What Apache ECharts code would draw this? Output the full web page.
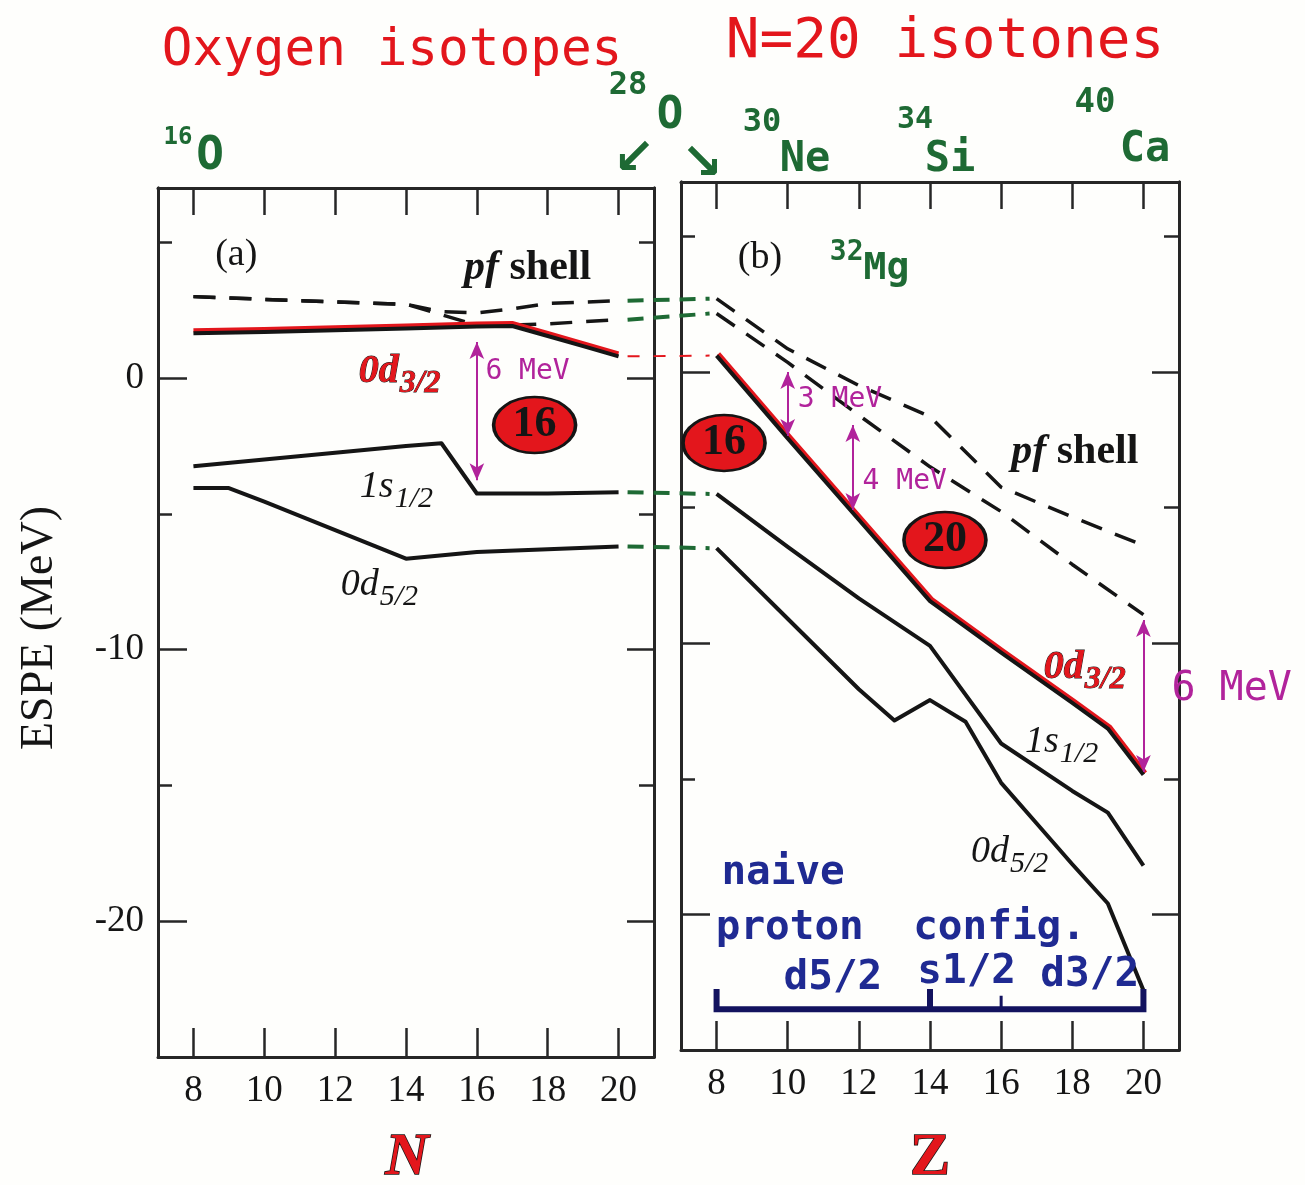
<!DOCTYPE html>
<html>
<head>
<meta charset="utf-8">
<script src="https://cdn.jsdelivr.net/npm/echarts@6/dist/echarts.min.js"></script>
<style>
  html, body { margin: 0; padding: 0; background: #fefefc; }
  #chart { width: 1305px; height: 1185px; }
</style>
</head>
<body>
<div id="chart"></div>
<script>
// ---------------- axis ticks ----------------
const xTicks = [8, 10, 12, 14, 16, 18, 20];
const yMajorTicks = [-20, -10, 0];
const yMinorTicks = [-15, -5, 5];

// ---------------- (a) oxygen isotopes: ESPE vs N ----------------
const oxyN_pfA = [8, 10, 12, 14, 15, 16, 17, 18, 20];
const oxyE_pfA = [3.0, 2.9, 2.8, 2.72, 2.45, 2.4, 2.55, 2.75, 2.85];
const oxyN_pfB = [8, 10, 12, 14, 16, 17, 18, 20];
const oxyE_pfB = [3.0, 2.9, 2.8, 2.72, 1.95, 1.95, 2.0, 2.15];
const oxyN_d32 = [8, 10, 12, 14, 16, 17, 18, 19, 20];
const oxyE_d32 = [1.65, 1.7, 1.76, 1.83, 1.9, 1.92, 1.55, 1.18, 0.8];
const oxyN_s12 = [8, 10, 12, 14, 15, 16, 18, 20];
const oxyE_s12 = [-3.25, -3.0, -2.75, -2.5, -2.4, -4.25, -4.25, -4.2];
const oxyN_d52 = [8, 9, 10, 12, 14, 16, 18, 20];
const oxyE_d52 = [-4.05, -4.05, -4.55, -5.6, -6.65, -6.4, -6.3, -6.2];

// ---------------- (b) N = 20 isotones: ESPE vs Z ----------------
const isoZ_pfU = [8, 10, 12, 14, 16, 18, 20];
const isoE_pfU = [2.7, 0.85, -0.5, -1.65, -4.25, -5.35, -6.4];
const isoZ_pfL = [8, 10, 12, 14, 16, 18, 20];
const isoE_pfL = [2.15, 0.35, -1.6, -3.5, -5.15, -7.1, -8.95];
const isoZ_d32 = [8, 10, 12, 14, 16, 18, 19, 20];
const isoE_d32 = [0.6, -2.45, -5.45, -8.45, -10.35, -12.2, -13.15, -14.85];
const isoZ_s12 = [8, 10, 12, 14, 16, 18, 19, 20];
const isoE_s12 = [-4.5, -6.45, -8.35, -10.1, -13.7, -15.45, -16.25, -18.2];
const isoZ_d52 = [8, 10, 12, 13, 14, 15, 16, 17, 18, 19, 20];
const isoE_d52 = [-6.5, -9.1, -11.7, -12.85, -12.1, -12.9, -15.15, -16.65, -18.15, -19.6, -22.8];

// naive proton filling: d5/2 (Z 8-14), s1/2 (14-16), d3/2 (16-20)
const protonBarZ = [8, 8, 20, 20];
const protonBarE = [-22.75, -23.5, -23.5, -22.75];
const protonStepZ = [14, 16];
const protonStepTop = [-22.75, -23.0];

// gap arrows [x, upper E, lower E]
const gapArrowsO = [[16, 1.33, -3.76]];
const gapArrowsIso = [[10, 0.0, -2.36], [11.83, -1.96, -5.09], [20, -9.15, -14.75]];

// shell-gap markers [x, E, number]
const gapMarksO = [[17.63, -1.73, '16']];
const gapMarksIso = [[8.21, -2.62, '16'], [14.42, -6.2, '20']];

// ---------------- styling ----------------
const C = {
  ink: '#151515', axis: '#262626', red: '#e3161c', green: '#1e6a34',
  mag: '#b1239b', navy: '#1f2a92', bar: '#13135f'
};
const SERIF = '"Liberation Serif", "DejaVu Serif", serif';
const HAND = '"DejaVu Sans Mono", monospace';

const pairs = (xs, ys) => xs.map((x, i) => [x, ys[i]]);

function xAxes(grid) {
  const base = {
    gridIndex: grid, type: 'value', min: 7, max: 21,
    splitLine: { show: false },
    axisLine: { show: true, onZero: false, lineStyle: { color: C.axis, width: 3 } },
    axisTick: { show: true, inside: true, length: 29, customValues: xTicks,
                lineStyle: { color: C.axis, width: 2.5 } }
  };
  return [
    Object.assign({}, base, { position: 'bottom',
      axisLabel: { show: true, customValues: xTicks, margin: 16,
                   fontFamily: SERIF, fontSize: 37, color: C.ink } }),
    Object.assign({}, base, { position: 'top', axisLabel: { show: false },
      axisTick: Object.assign({}, base.axisTick, { length: 27 }) })
  ];
}

function yAxes(grid, withLabels) {
  const mk = (pos, ticks, len, labels) => ({
    gridIndex: grid, type: 'value', min: -25, max: 7, position: pos,
    splitLine: { show: false },
    axisLine: { show: true, onZero: false, lineStyle: { color: C.axis, width: 3 } },
    axisTick: { show: true, inside: true, length: len, customValues: ticks,
                lineStyle: { color: C.axis, width: 2.5 } },
    axisLabel: labels
      ? { show: true, customValues: ticks, margin: 14, fontFamily: SERIF, fontSize: 37, color: C.ink }
      : { show: false }
  });
  return [
    mk('left', yMajorTicks, 29, withLabels),
    mk('left', yMinorTicks, 14, false),
    mk('right', yMajorTicks, 27, false),
    mk('right', yMinorTicks, 15, false)
  ];
}

function level(name, g, xs, ys, style) {
  return {
    type: 'line', name, xAxisIndex: g ? 2 : 0, yAxisIndex: g ? 4 : 0,
    data: pairs(xs, ys), symbol: 'none', silent: true, z: 3,
    lineStyle: Object.assign({ color: C.ink, width: 4, join: 'round' }, style || {})
  };
}
const dashed = { type: [22, 14], width: 3.5, cap: 'butt' };
const redEdgeO = { shadowColor: C.red, shadowBlur: 0, shadowOffsetX: 0, shadowOffsetY: -3 };
const redEdgeIso = { shadowColor: C.red, shadowBlur: 0, shadowOffsetX: 2, shadowOffsetY: -2 };

function arrowMarks(list) {
  return {
    silent: true, symbol: ['arrow', 'arrow'], symbolSize: [11, 17],
    lineStyle: { color: C.mag, width: 2, type: 'solid' }, label: { show: false },
    data: list.map(a => [{ coord: [a[0], a[1]] }, { coord: [a[0], a[2]] }])
  };
}

function gapCircles(g, list) {
  return {
    type: 'scatter', xAxisIndex: g ? 2 : 0, yAxisIndex: g ? 4 : 0, z: 6, silent: true,
    symbol: 'circle', symbolSize: [82, 56],
    itemStyle: { color: C.red, borderColor: C.ink, borderWidth: 3, opacity: 1 },
    label: { show: true, position: 'inside', fontFamily: SERIF, fontWeight: 'bold',
             fontSize: 44, color: C.ink, formatter: p => p.data[2] },
    data: list
  };
}

// rich text pieces for level names and annotations
const rich = {
  plain: { fontFamily: SERIF, fontSize: 38, color: C.ink },
  pfi: { fontFamily: SERIF, fontSize: 42, fontStyle: 'italic', fontWeight: 'bold', color: C.ink },
  pfb: { fontFamily: SERIF, fontSize: 42, fontWeight: 'bold', color: C.ink },
  lv: { fontFamily: SERIF, fontSize: 38, fontStyle: 'italic', color: C.ink },
  lvs: { fontFamily: SERIF, fontSize: 30, fontStyle: 'italic', color: C.ink, padding: [24, 0, 0, 1] },
  rv: { fontFamily: SERIF, fontSize: 40, fontStyle: 'italic', fontWeight: 'bold', color: C.red,
        textBorderColor: C.ink, textBorderWidth: 1 },
  rvs: { fontFamily: SERIF, fontSize: 32, fontStyle: 'italic', fontWeight: 'bold', color: C.red,
         textBorderColor: C.ink, textBorderWidth: 0.8, padding: [24, 0, 0, 1] },
  mev: { fontFamily: HAND, fontSize: 28, color: C.mag },
  mevL: { fontFamily: HAND, fontSize: 40, color: C.mag },
  gm: { fontFamily: HAND, fontSize: 28, fontWeight: 'bold', color: C.green },
  gMg: { fontFamily: HAND, fontSize: 38, fontWeight: 'bold', color: C.green, padding: [34, 0, 0, 0] },
  nv: { fontFamily: HAND, fontSize: 41, fontWeight: 'bold', color: C.navy }
};

function notes(g, list) {
  return {
    type: 'scatter', xAxisIndex: g ? 2 : 0, yAxisIndex: g ? 4 : 0, z: 7, silent: true,
    clip: false, symbolSize: 1, itemStyle: { color: 'rgba(0,0,0,0)', opacity: 1 },
    label: { show: true, position: 'inside', align: 'center', verticalAlign: 'middle', rich },
    data: list.map(n => ({ value: [n[0], n[1]], label: { formatter: n[2] } }))
  };
}

const notesO = [
  [9.21, 4.53, '{plain|(a)}'],
  [17.43, 4.05, '{pfi|pf}{pfb| shell}'],
  [13.82, 0.23, '{rv|0d}{rvs|3/2}'],
  [13.73, -4.01, '{lv|1s}{lvs|1/2}'],
  [13.25, -7.62, '{lv|0d}{lvs|5/2}'],
  [17.43, 0.23, '{mev|6 MeV}']
];
const notesIso = [
  [9.22, 4.2, '{plain|(b)}'],
  [12.3, 4.4, '{gm|32}{gMg|Mg}'],
  [18.07, -2.95, '{pfi|pf}{pfb| shell}'],
  [18.35, -10.92, '{rv|0d}{rvs|3/2}'],
  [17.7, -13.65, '{lv|1s}{lvs|1/2}'],
  [16.24, -17.7, '{lv|0d}{lvs|5/2}'],
  [11.47, -1.04, '{mev|3 MeV}'],
  [13.29, -4.06, '{mev|4 MeV}'],
  [22.48, -11.73, '{mevL|6 MeV}'],
  [9.87, -18.47, '{nv|naive}'],
  [13.18, -20.5, '{nv|proton  config.}'],
  [11.27, -22.35, '{nv|d5/2}'],
  [15.03, -22.12, '{nv|s1/2}'],
  [18.49, -22.24, '{nv|d3/2}']
];

const option = {
  animation: false,
  backgroundColor: '#fefefc',
  grid: [
    { left: 158, top: 188, width: 496, height: 869 },
    { left: 681, top: 182, width: 498, height: 868 }
  ],
  xAxis: [].concat(xAxes(0), xAxes(1)),
  yAxis: [].concat(yAxes(0, true), yAxes(1, false)),
  series: [
    // (a) oxygen isotopes
    level('pf-a', 0, oxyN_pfA, oxyE_pfA, dashed),
    level('pf-b', 0, oxyN_pfB, oxyE_pfB, dashed),
    Object.assign(level('0d3/2', 0, oxyN_d32, oxyE_d32, redEdgeO), { markLine: arrowMarks(gapArrowsO) }),
    level('1s1/2', 0, oxyN_s12, oxyE_s12),
    level('0d5/2', 0, oxyN_d52, oxyE_d52),
    gapCircles(0, gapMarksO),
    notes(0, notesO),
    // (b) N = 20 isotones
    level('pf-u', 1, isoZ_pfU, isoE_pfU, dashed),
    level('pf-l', 1, isoZ_pfL, isoE_pfL, dashed),
    Object.assign(level('0d3/2', 1, isoZ_d32, isoE_d32, redEdgeIso), { markLine: arrowMarks(gapArrowsIso) }),
    level('1s1/2', 1, isoZ_s12, isoE_s12),
    level('0d5/2', 1, isoZ_d52, isoE_d52),
    level('proton bar', 1, protonBarZ, protonBarE, { color: C.bar, width: 6, join: 'miter' }),
    level('proton step 14', 1, [protonStepZ[0], protonStepZ[0]], [protonStepTop[0], protonBarE[1]], { color: C.bar, width: 6 }),
    level('proton step 16', 1, [protonStepZ[1], protonStepZ[1]], [protonStepTop[1], protonBarE[1]], { color: C.bar, width: 3 }),
    gapCircles(1, gapMarksIso),
    notes(1, notesIso)
  ]
};

const chart = echarts.init(document.getElementById('chart'), null, { renderer: 'canvas' });
chart.setOption(option);

// 28O is both the last oxygen isotope and the first N = 20 isotone:
// join the end of each panel-(a) level to the start of the same level in panel (b).
const links = [
  { a: oxyE_pfA, b: isoE_pfU, color: C.green, w: 4, dash: [16, 10] },
  { a: oxyE_pfB, b: isoE_pfL, color: C.green, w: 4, dash: [16, 10] },
  { a: oxyE_d32, b: isoE_d32, color: C.red, w: 2, dash: [12, 14] },
  { a: oxyE_s12, b: isoE_s12, color: C.green, w: 4, dash: [16, 10] },
  { a: oxyE_d52, b: isoE_d52, color: C.green, w: 4, dash: [16, 10] }
];
const linkLines = links.map(l => {
  const p = chart.convertToPixel({ gridIndex: 0 }, [20, l.a[l.a.length - 1]]);
  const q = chart.convertToPixel({ gridIndex: 1 }, [8, l.b[0]]);
  return {
    type: 'line', silent: true, z: 5,
    shape: { x1: p[0] + 9, y1: p[1], x2: q[0] - 7, y2: q[1] },
    style: { stroke: l.color, lineWidth: l.w, lineDash: l.dash }
  };
});

function txt(x, y, s, font, color) {
  return {
    type: 'text', x, y, silent: true, z: 10,
    style: { text: s, font, fill: color, align: 'center', verticalAlign: 'middle' }
  };
}
const hand = (size, bold) => (bold ? 'bold ' : '') + size + 'px ' + HAND;

const headers = [
  txt(392, 52, 'Oxygen isotopes', hand(51), C.red),
  txt(945, 42, 'N=20 isotones', hand(56), C.red),
  txt(178, 138, '16', hand(24, true), C.green),
  txt(210, 157, 'O', hand(46, true), C.green),
  txt(628, 86, '28', hand(32, true), C.green),
  txt(670, 117, 'O', hand(44, true), C.green),
  txt(634, 160, '\u2199', 'bold 50px "DejaVu Sans", sans-serif', C.green),
  txt(702, 165, '\u2198', 'bold 50px "DejaVu Sans", sans-serif', C.green),
  txt(762, 123, '30', hand(32, true), C.green),
  txt(805, 160, 'Ne', hand(42, true), C.green),
  txt(915, 120, '34', hand(30, true), C.green),
  txt(950, 160, 'Si', hand(42, true), C.green),
  txt(1095, 103, '40', hand(34, true), C.green),
  txt(1145, 150, 'Ca', hand(42, true), C.green),
  {
    type: 'text', x: 40, y: 628, rotation: Math.PI / 2, silent: true,
    style: { text: 'ESPE (MeV)', font: '46px ' + SERIF, fill: C.ink, align: 'center', verticalAlign: 'middle' }
  },
  {
    type: 'text', x: 407, y: 1158, silent: true,
    style: { text: 'N', font: 'italic bold 60px ' + SERIF, fill: C.red, stroke: C.ink, lineWidth: 1.5,
             align: 'center', verticalAlign: 'middle' }
  },
  {
    type: 'text', x: 930, y: 1158, silent: true,
    style: { text: 'Z', font: 'bold 60px ' + SERIF, fill: C.red, stroke: C.ink, lineWidth: 1.5,
             align: 'center', verticalAlign: 'middle' }
  }
];

chart.setOption({ graphic: headers.concat(linkLines) });
</script>
</body>
</html>
